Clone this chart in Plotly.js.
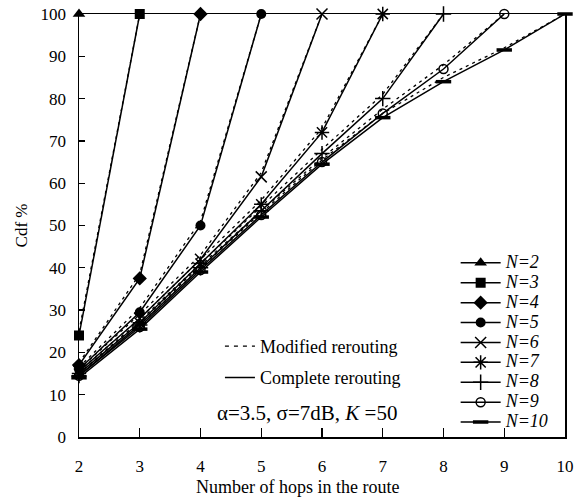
<!DOCTYPE html>
<html>
<head>
<meta charset="utf-8">
<script src="https://cdn.plot.ly/plotly-3.0.1.min.js"></script>
<style>
html,body{margin:0;padding:0;background:#fff;}
#chart{width:588px;height:499px;}
g.legend2 text.legendtext{letter-spacing:1.9px;}
</style>
</head>
<body>
<div id="chart"></div>
<script>
// Hops in the route
const hops = [2, 3, 4, 5, 6, 7, 8, 9, 10];
const seriesNames = ["N=2", "N=3", "N=4", "N=5", "N=6", "N=7", "N=8", "N=9", "N=10"];
// Complete rerouting (solid, with markers)
const complete_N2  = [100];
const complete_N3  = [24, 100];
const complete_N4  = [17, 37.5, 100];
const complete_N5  = [16, 29.5, 50, 100];
const complete_N6  = [15.5, 28, 42, 61.5, 100];
const complete_N7  = [15, 27, 41, 55, 72, 100];
const complete_N8  = [14.5, 26.5, 40, 53.5, 67, 80, 100];
const complete_N9  = [14.5, 26, 39.5, 52.5, 65, 76.5, 87, 100];
const complete_N10 = [14, 25.5, 39, 52, 64.5, 75.5, 84, 91.5, 100];
// Modified rerouting (dashed)
const modified_N2  = [100];
const modified_N3  = [25, 100];
const modified_N4  = [17.5, 38.5, 100];
const modified_N5  = [16.5, 30.5, 51, 100];
const modified_N6  = [16, 29, 43, 62.5, 100];
const modified_N7  = [15.5, 28, 42, 56, 73, 100];
const modified_N8  = [15, 27.5, 41, 54.5, 68, 81, 100];
const modified_N9  = [15, 27, 40.5, 53.5, 66, 77.5, 88, 100];
const modified_N10 = [14.5, 26.5, 40, 53, 65.5, 76.5, 85, 92, 100];
const yTicks = [0, 10, 20, 30, 40, 50, 60, 70, 80, 90, 100];
const xTicks = [2, 3, 4, 5, 6, 7, 8, 9, 10];

const completeData = [complete_N2, complete_N3, complete_N4, complete_N5, complete_N6, complete_N7, complete_N8, complete_N9, complete_N10];
const modifiedData = [modified_N2, modified_N3, modified_N4, modified_N5, modified_N6, modified_N7, modified_N8, modified_N9, modified_N10];
const symbols = ["triangle-up", "square", "diamond", "circle", "x-thin-open", "asterisk-open", "cross-thin-open", "circle-open", "line-ew-open"];
const sizes = [11, 10, 11, 10, 11, 12, 11, 9, 11];
const mlw = [0, 0, 0, 0, 1.5, 1.5, 1.5, 1.5, 3.5];

const traces = [];
modifiedData.forEach((ys, i) => {
  traces.push({
    x: hops.slice(0, ys.length), y: ys, type: 'scatter', mode: 'lines',
    line: {color: '#000', width: 1.3, dash: '3px,4px'},
    showlegend: false, hoverinfo: 'skip', cliponaxis: false
  });
});
completeData.forEach((ys, i) => {
  traces.push({
    x: hops.slice(0, ys.length), y: ys, type: 'scatter', mode: 'lines+markers',
    name: '<span style="font-size:18px"><i>' + seriesNames[i] + '</i></span>',
    line: {color: '#000', width: 1.5},
    marker: {symbol: symbols[i], size: sizes[i], color: '#000', line: {color: '#000', width: mlw[i]}},
    cliponaxis: false, legend: 'legend'
  });
});
// style legend entries
traces.push({x: [null], y: [null], type: 'scatter', mode: 'lines', name: 'Modified rerouting',
  line: {color: '#000', width: 1.3, dash: '4px,5px'}, legend: 'legend2', legendgroup: 'm'});
traces.push({x: [null], y: [null], type: 'scatter', mode: 'lines', name: 'Complete rerouting',
  line: {color: '#000', width: 1.5}, legend: 'legend2', legendgroup: 'c'});

const fam = 'Liberation Serif, Times New Roman, serif';
const font = {family: fam, size: 17, color: '#000'};
const layout = {
  width: 588, height: 499,
  margin: {l: 79, r: 23, t: 14, b: 62},
  paper_bgcolor: '#fff', plot_bgcolor: '#fff',
  font: font,
  showlegend: true,
  xaxis: {
    range: [2, 10], tickvals: xTicks, ticktext: xTicks.map(String),
    ticks: 'inside', ticklen: 9, tickcolor: '#000', tickwidth: 1.3,
    showline: true, linecolor: '#000', linewidth: 1.5, mirror: true,
    showgrid: false, zeroline: false, ticklabelstandoff: 13, automargin: false,
    tickfont: {family: fam, size: 17, color: '#000'}
  },
  yaxis: {
    range: [0, 100], tickvals: yTicks, ticktext: yTicks.map(String),
    ticks: 'inside', ticklen: 6, tickcolor: '#000', tickwidth: 1.3,
    showline: true, linecolor: '#000', linewidth: 1.5, mirror: true,
    showgrid: false, zeroline: false, ticklabelstandoff: 8, automargin: false,
    tickfont: {family: fam, size: 17, color: '#000'},
    title: {text: 'Cdf %', font: {family: fam, size: 17, color: '#000'}, standoff: 8}
  },
  legend: {
    x: 0.775, y: 0.447, xanchor: 'left', yanchor: 'top',
    bgcolor: 'rgba(0,0,0,0)', font: {family: fam, size: 13, color: '#000'}, itemwidth: 40, tracegroupgap: 0
  },
  legend2: {
    x: 0.29, y: 0.258, xanchor: 'left', yanchor: 'top',
    bgcolor: 'rgba(0,0,0,0)', font: {family: fam, size: 18, color: '#000'}, traceorder: 'grouped', tracegroupgap: 5
  },
  annotations: [
    {text: 'Number of hops in the route', xref: 'paper', yref: 'paper', x: 0.45, y: -0.118,
     xanchor: 'center', yanchor: 'middle', showarrow: false, font: {family: fam, size: 18, color: '#000'}},
    {text: 'α=3.5, σ=7dB, <i>K</i> =50', xref: 'paper', yref: 'paper', x: 0.28, y: 0.057,
     xanchor: 'left', yanchor: 'middle', showarrow: false, font: {family: fam, size: 21, color: '#000'}}
  ]
};
Plotly.newPlot('chart', traces, layout, {displayModeBar: false, staticPlot: true});
</script>
</body>
</html>
